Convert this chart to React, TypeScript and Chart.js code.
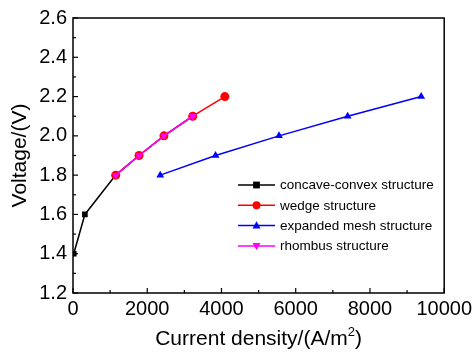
import React, { useEffect, useRef } from "react";
import { Chart, registerables } from "chart.js";

Chart.register(...registerables);

const seriesNames = [
  "concave-convex structure",
  "wedge structure",
  "expanded mesh structure",
  "rhombus structure",
];
const seriesColors = ["#000000", "#ff0000", "#0000ff", "#ff00ff"];
const seriesMarkers = ["rect", "circle", "triangle", "triangleDown"];
const seriesOrder = [4, 3, 2, 1];

const concaveX = [20, 320, 1150, 1780, 2450, 3225];
const concaveY = [1.4, 1.6, 1.8, 1.9, 2.0, 2.1];
const wedgeX = [1150, 1780, 2450, 3225, 4090];
const wedgeY = [1.8, 1.9, 2.0, 2.1, 2.2];
const meshX = [2350, 3840, 5550, 7400, 9380];
const meshY = [1.8, 1.9, 2.0, 2.1, 2.2];
const rhombusX = [1150, 1780, 2450, 3225];
const rhombusY = [1.8, 1.9, 2.0, 2.1];

const xTicks = [0, 2000, 4000, 6000, 8000, 10000];
const yTicks = [1.2, 1.4, 1.6, 1.8, 2.0, 2.2, 2.4, 2.6];

const xTitleMain = "Current density/(A/m";
const xTitleSup = "2";
const xTitleEnd = ")";
const yTitle = "Voltage/(V)";

const FONT = "Arial, 'Liberation Sans', sans-serif";

const toPts = (xs: number[], ys: number[]) => xs.map((x, i) => ({ x, y: ys[i] }));

function drawMarker(ctx: CanvasRenderingContext2D, kind: string, x: number, y: number, r: number, color: string) {
  ctx.save();
  ctx.fillStyle = color;
  ctx.beginPath();
  if (kind === "rect") {
    ctx.rect(x - r * 0.85, y - r * 0.85, r * 1.7, r * 1.7);
  } else if (kind === "circle") {
    ctx.arc(x, y, r, 0, Math.PI * 2);
  } else if (kind === "triangle") {
    ctx.moveTo(x, y - r * 1.1);
    ctx.lineTo(x + r, y + r * 0.7);
    ctx.lineTo(x - r, y + r * 0.7);
    ctx.closePath();
  } else {
    ctx.moveTo(x, y + r * 1.1);
    ctx.lineTo(x + r, y - r * 0.7);
    ctx.lineTo(x - r, y - r * 0.7);
    ctx.closePath();
  }
  ctx.fill();
  ctx.restore();
}

const framePlugin = {
  id: "frameTicks",
  afterDraw(chart: any) {
    const { ctx, chartArea: a, scales } = chart;
    ctx.save();
    ctx.strokeStyle = "#000";
    ctx.lineWidth = 1.5;
    ctx.strokeRect(a.left, a.top, a.right - a.left, a.bottom - a.top);
    ctx.lineWidth = 1.2;
    const xs = scales.x;
    for (let v = 0; v <= 10000; v += 1000) {
      const px = xs.getPixelForValue(v);
      const len = v % 2000 === 0 ? 5 : 3;
      ctx.beginPath();
      ctx.moveTo(px, a.bottom);
      ctx.lineTo(px, a.bottom - len);
      ctx.stroke();
    }
    const ys = scales.y;
    for (let i = 0; i <= 14; i++) {
      const v = 1.2 + i * 0.1;
      const py = ys.getPixelForValue(v);
      const len = i % 2 === 0 ? 5 : 3;
      ctx.beginPath();
      ctx.moveTo(a.left, py);
      ctx.lineTo(a.left + len, py);
      ctx.stroke();
    }
    // x axis title with real superscript
    ctx.fillStyle = "#000";
    ctx.textBaseline = "alphabetic";
    ctx.textAlign = "left";
    const mainFont = `21px ${FONT}`;
    const supFont = `13px ${FONT}`;
    ctx.font = mainFont;
    const w1 = ctx.measureText(xTitleMain).width;
    const w3 = ctx.measureText(xTitleEnd).width;
    ctx.font = supFont;
    const w2 = ctx.measureText(xTitleSup).width;
    const total = w1 + w2 + w3;
    const cx = (a.left + a.right) / 2;
    const base = 345;
    let x0 = cx - total / 2;
    ctx.font = mainFont;
    ctx.fillText(xTitleMain, x0, base);
    ctx.font = supFont;
    ctx.fillText(xTitleSup, x0 + w1, base - 9);
    ctx.font = mainFont;
    ctx.fillText(xTitleEnd, x0 + w1 + w2, base);
    // y axis title
    ctx.save();
    ctx.translate(20, (a.top + a.bottom) / 2);
    ctx.rotate(-Math.PI / 2);
    ctx.textAlign = "center";
    ctx.textBaseline = "middle";
    ctx.font = mainFont;
    ctx.fillText(yTitle, 0, 0);
    ctx.restore();
    // legend
    const lx = 238;
    const ly = 185;
    const dy = 20.3;
    ctx.font = `13.5px ${FONT}`;
    ctx.textAlign = "left";
    ctx.textBaseline = "middle";
    seriesNames.forEach((name, i) => {
      const y = ly + i * dy;
      ctx.strokeStyle = seriesColors[i];
      ctx.lineWidth = 1.5;
      ctx.beginPath();
      ctx.moveTo(lx, y);
      ctx.lineTo(lx + 37, y);
      ctx.stroke();
      drawMarker(ctx, seriesMarkers[i], lx + 18.5, y, 4, seriesColors[i]);
      ctx.fillStyle = "#000";
      ctx.fillText(name, lx + 42, y + 0.5);
    });
    ctx.restore();
  },
};

export default function App() {
  const ref = useRef<HTMLCanvasElement>(null);
  useEffect(() => {
    document.body.style.margin = "0";
    const sets = [
      toPts(concaveX, concaveY),
      toPts(wedgeX, wedgeY),
      toPts(meshX, meshY),
      toPts(rhombusX, rhombusY),
    ];
    const chart = new Chart(ref.current!, {
      type: "scatter",
      data: {
        datasets: sets.map((d, i) => ({
          label: seriesNames[i],
          data: d,
          order: seriesOrder[i],
          showLine: true,
          borderColor: seriesColors[i],
          backgroundColor: seriesColors[i],
          borderWidth: 1.5,
          pointStyle: seriesMarkers[i] === "triangleDown" ? "triangle" : (seriesMarkers[i] as any),
          rotation: seriesMarkers[i] === "triangleDown" ? 180 : 0,
          pointRadius: seriesMarkers[i] === "rect" ? 4 : 4.5,
          pointBorderWidth: 0,
          tension: 0,
        })),
      },
      options: {
        animation: false,
        responsive: false,
        layout: { padding: { top: 17, right: 30, left: 0, bottom: 0 } },
        plugins: { legend: { display: false }, tooltip: { enabled: false } },
        scales: {
          x: {
            type: "linear",
            min: 0,
            max: 10000,
            afterBuildTicks: (s: any) => {
              s.ticks = xTicks.map((v) => ({ value: v }));
            },
            afterFit: (s: any) => {
              s.height = 60;
            },
            grid: { display: false, drawTicks: false },
            border: { display: false },
            ticks: {
              color: "#000",
              font: { family: FONT, size: 20 },
              padding: 4,
              maxRotation: 0,
              autoSkip: false,
              callback: (v: any) => String(v),
            },
            title: { display: false },
          },
          y: {
            type: "linear",
            min: 1.2,
            max: 2.6,
            afterBuildTicks: (s: any) => {
              s.ticks = yTicks.map((v) => ({ value: v }));
            },
            afterFit: (s: any) => {
              s.width = 73;
            },
            grid: { display: false, drawTicks: false },
            border: { display: false },
            ticks: {
              color: "#000",
              font: { family: FONT, size: 20 },
              padding: 6,
              autoSkip: false,
              callback: (v: any) => Number(v).toFixed(1),
            },
            title: { display: false },
          },
        },
      },
      plugins: [framePlugin],
    });
    return () => chart.destroy();
  }, []);
  return <canvas ref={ref} width={476} height={353} style={{ display: "block" }} />;
}
